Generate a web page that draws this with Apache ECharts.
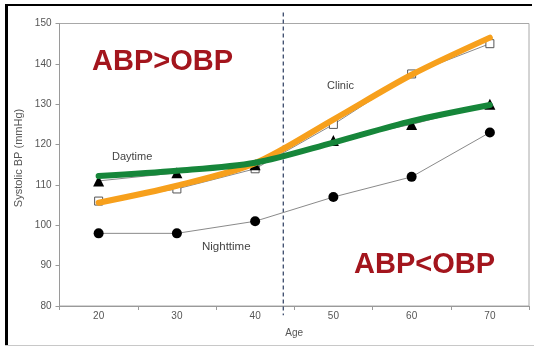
<!DOCTYPE html>
<html><head><meta charset="utf-8">
<script src="https://cdn.jsdelivr.net/npm/echarts@6/dist/echarts.min.js"></script>
<style>html,body{margin:0;padding:0;background:#fff}#c{width:534px;height:347px}</style>
</head><body><div id="c"></div>
<script>
var ages = ['20','30','40','50','60','70'];
var clinic = [106, 109, 114, 125, 137.5, 145];
var daytime = [111, 113, 115, 121, 125, 130];
var nighttime = [98, 98, 101, 107, 112, 123];
var clinicTrend = [105.6, 109.8, 115.4, 126.2, 137.3, 146.5];
var daytimeTrend = [112.2, 113.5, 115.5, 120.5, 125.8, 129.8];
var yTicks = {min: 80, max: 150, step: 10};
var dividerAge = 43.6;
var dividerSpan = [152.7, 77.7];

var chart = echarts.init(document.getElementById('c'), null, {renderer: 'canvas'});
var FONT = 'Liberation Sans';
var thin = {color: '#8a8a8a', width: 1};
chart.setOption({
  animation: false,
  backgroundColor: '#fff',
  grid: {left: 59.5, right: 5, top: 23.5, bottom: 41, show: true, borderColor: '#a8a8a8', borderWidth: 1},
  xAxis: [{
    type: 'category', data: ages, boundaryGap: true,
    name: 'Age', nameLocation: 'middle', nameGap: 22,
    nameTextStyle: {fontFamily: FONT, fontSize: 10, color: '#555'},
    axisLine: {lineStyle: {color: '#9a9a9a', width: 1}},
    axisTick: {show: true, length: 4, lineStyle: {color: '#9a9a9a'}},
    axisLabel: {fontFamily: FONT, fontSize: 10, color: '#555', margin: 5},
    splitLine: {show: false}
  }, {
    type: 'value', min: 15, max: 75, show: false
  }],
  yAxis: {
    type: 'value', min: yTicks.min, max: yTicks.max, interval: yTicks.step,
    axisLine: {show: true, lineStyle: {color: '#9a9a9a', width: 1}},
    axisTick: {show: true, length: 4, lineStyle: {color: '#9a9a9a'}},
    axisLabel: {fontFamily: FONT, fontSize: 10, color: '#555', margin: 8},
    splitLine: {show: false}
  },
  series: [
    {type: 'line', xAxisIndex: 1, data: [[dividerAge, dividerSpan[0]], [dividerAge, dividerSpan[1]]],
     clip: false, symbol: 'none', lineStyle: {color: '#3a4a6a', width: 1.3, type: [4, 3]}, z: 1},
    {type: 'line', data: nighttime, symbol: 'circle', symbolSize: 10,
     itemStyle: {color: '#000'}, lineStyle: thin, z: 2},
    {type: 'line', data: clinic, symbol: 'rect', symbolSize: 8,
     itemStyle: {color: '#fff', borderColor: '#555', borderWidth: 1}, lineStyle: thin, z: 2},
    {type: 'line', data: daytime, symbol: 'triangle', symbolSize: 11,
     itemStyle: {color: '#000'}, lineStyle: thin, z: 2},
    {type: 'line', data: clinicTrend, smooth: 0.3, symbol: 'none',
     lineStyle: {color: '#f7a01c', width: 6, cap: 'round'}, z: 3},
    {type: 'line', data: daytimeTrend, smooth: 0.3, symbol: 'none',
     lineStyle: {color: '#16863a', width: 6, cap: 'round'}, z: 4}
  ],
  graphic: [
    {type: 'rect', shape: {x: 5, y: 4, width: 527, height: 2}, style: {fill: '#000'}},
    {type: 'rect', shape: {x: 5, y: 4, width: 3, height: 342}, style: {fill: '#000'}},
    {type: 'rect', shape: {x: 5, y: 345, width: 529, height: 1}, style: {fill: '#c8c8c8'}},
    {type: 'text', x: 19, y: 158, rotation: Math.PI / 2,
     style: {text: 'Systolic BP (mmHg)', font: '11px "Liberation Sans"', fill: '#555', align: 'center', verticalAlign: 'middle'}},
    {type: 'text', left: 92, top: 47, style: {text: 'ABP>OBP', font: 'bold 29px "Liberation Sans"', fill: '#a3151d'}},
    {type: 'text', left: 354, top: 250, style: {text: 'ABP<OBP', font: 'bold 29px "Liberation Sans"', fill: '#a3151d'}},
    {type: 'text', left: 327, top: 80, style: {text: 'Clinic', font: '11px "Liberation Sans"', fill: '#444'}},
    {type: 'text', left: 112, top: 151, style: {text: 'Daytime', font: '11px "Liberation Sans"', fill: '#444'}},
    {type: 'text', left: 202, top: 241, style: {text: 'Nighttime', font: '11.5px "Liberation Sans"', fill: '#444'}}
  ]
});
</script></body></html>
